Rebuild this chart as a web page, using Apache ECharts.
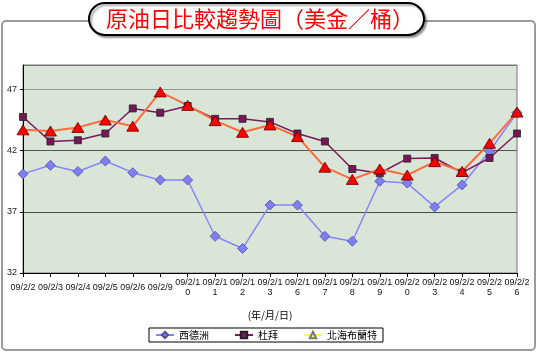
<!DOCTYPE html>
<html>
<head>
<meta charset="utf-8">
<script src="https://cdn.jsdelivr.net/npm/echarts@6/dist/echarts.min.js"></script>
<style>
  html, body {margin: 0; padding: 0; background: #fff;}
  #main {width: 538px; height: 354px;}
</style>
</head>
<body>
<div id="main"></div>
<script>
// 日期 (年/月/日)
const dates = ['09/2/2', '09/2/3', '09/2/4', '09/2/5', '09/2/6', '09/2/9', '09/2/10', '09/2/11', '09/2/12',
  '09/2/13', '09/2/16', '09/2/17', '09/2/18', '09/2/19', '09/2/20', '09/2/23', '09/2/24', '09/2/25', '09/2/26'];
const seriesNames = ['西德洲', '杜拜', '北海布蘭特'];
const westTexas = [40.1, 40.8, 40.3, 41.15, 40.2, 39.6, 39.6, 35.0, 34.0, 37.55, 37.55, 35.0, 34.6, 39.5, 39.35, 37.4, 39.2, 41.95, 45.1];
const dubai = [44.75, 42.75, 42.85, 43.4, 45.45, 45.1, 45.65, 44.6, 44.6, 44.35, 43.4, 42.75, 40.5, 40.15, 41.35, 41.4, 40.2, 41.4, 43.4];
const brent = [43.7, 43.6, 43.9, 44.5, 44.0, 46.8, 45.7, 44.45, 43.5, 44.1, 43.15, 40.65, 39.65, 40.5, 40.0, 41.1, 40.3, 42.6, 45.15];
const yTicks = {min: 32, max: 49, interval: 5};

const chart = echarts.init(document.getElementById('main'));
const font = '"Liberation Sans", Arial, sans-serif';
const cjk = '"Noto Sans CJK TC", sans-serif';

chart.setOption({
  animation: false,
  backgroundColor: '#fff',
  graphic: [
    {
      type: 'rect', z: 0,
      shape: {x: 2, y: 21, width: 533, height: 329, r: 4},
      style: {fill: 'none', stroke: '#9a9a9a', lineWidth: 2}
    },
    {
      type: 'rect', z: 10,
      shape: {x: 89, y: 3, width: 335, height: 32, r: 16},
      style: {
        fill: '#fff', stroke: '#000', lineWidth: 2,
        shadowColor: 'rgba(0,0,0,0.35)', shadowOffsetX: 2, shadowOffsetY: 2, shadowBlur: 2
      }
    },
    {
      type: 'text', z: 11, x: 260, y: 19,
      style: {
        text: '原油日比較趨勢圖（美金／桶）',
        fill: '#ff0000',
        font: 'normal 22px ' + cjk,
        align: 'center', verticalAlign: 'middle'
      }
    }
  ],
  grid: {
    left: 23, right: 21, top: 65, bottom: 81,
    show: true, backgroundColor: '#d9e5d7', borderColor: '#777', borderWidth: 1
  },
  legend: {
    left: 149, top: 328, width: 236,
    padding: [2, 6, 2, 6],
    borderColor: '#000', borderWidth: 1,
    itemWidth: 18, itemHeight: 8, itemGap: 25,
    textStyle: {fontFamily: cjk, fontSize: 10, color: '#000'},
    data: [
      {name: seriesNames[0]},
      {name: seriesNames[1]},
      {name: seriesNames[2], itemStyle: {color: '#ffff40', borderColor: '#777'}, lineStyle: {color: '#ffff40'}}
    ]
  },
  xAxis: {
    type: 'category',
    data: dates,
    boundaryGap: false,
    name: '(年/月/日)',
    nameLocation: 'middle',
    nameGap: 37,
    nameTextStyle: {fontFamily: cjk, fontSize: 10, color: '#000'},
    axisLine: {lineStyle: {color: '#000', width: 1}},
    axisTick: {interval: 0, length: 4, lineStyle: {color: '#000'}},
    axisLabel: {
      interval: 0, margin: 15, verticalAlign: 'middle', lineHeight: 10,
      fontFamily: font, fontSize: 9, color: '#111',
      formatter: v => v.length > 6 ? v.slice(0, 6) + '\n' + v.slice(6) : v
    },
    splitLine: {show: false}
  },
  yAxis: {
    type: 'value',
    min: yTicks.min, max: yTicks.max, interval: yTicks.interval,
    axisLine: {show: true, lineStyle: {color: '#000'}},
    axisTick: {show: true, length: 3, lineStyle: {color: '#000'}},
    axisLabel: {showMaxLabel: false, margin: 6, fontFamily: font, fontSize: 9, color: '#222'},
    splitLine: {lineStyle: {color: ['#555', '#4a4a4a', '#555', '#999', '#777'], width: 1}}
  },
  series: [
    {
      name: seriesNames[0], type: 'line', data: westTexas,
      symbol: 'diamond', symbolSize: 10,
      lineStyle: {color: '#8585ff', width: 1.5},
      itemStyle: {color: '#7f7ff5', borderColor: '#50509a', borderWidth: 0.8}
    },
    {
      name: seriesNames[1], type: 'line', data: dubai,
      symbol: 'rect', symbolSize: 7,
      lineStyle: {color: '#7a1a5c', width: 1.5},
      itemStyle: {color: '#7a1658', borderColor: '#222', borderWidth: 0.8}
    },
    {
      name: seriesNames[2], type: 'line', data: brent,
      symbol: 'triangle', symbolSize: [12, 10],
      lineStyle: {color: '#ff6a3a', width: 2},
      itemStyle: {color: '#ff0000', borderColor: '#5a0000', borderWidth: 0.8}
    }
  ]
});
</script>
</body>
</html>
